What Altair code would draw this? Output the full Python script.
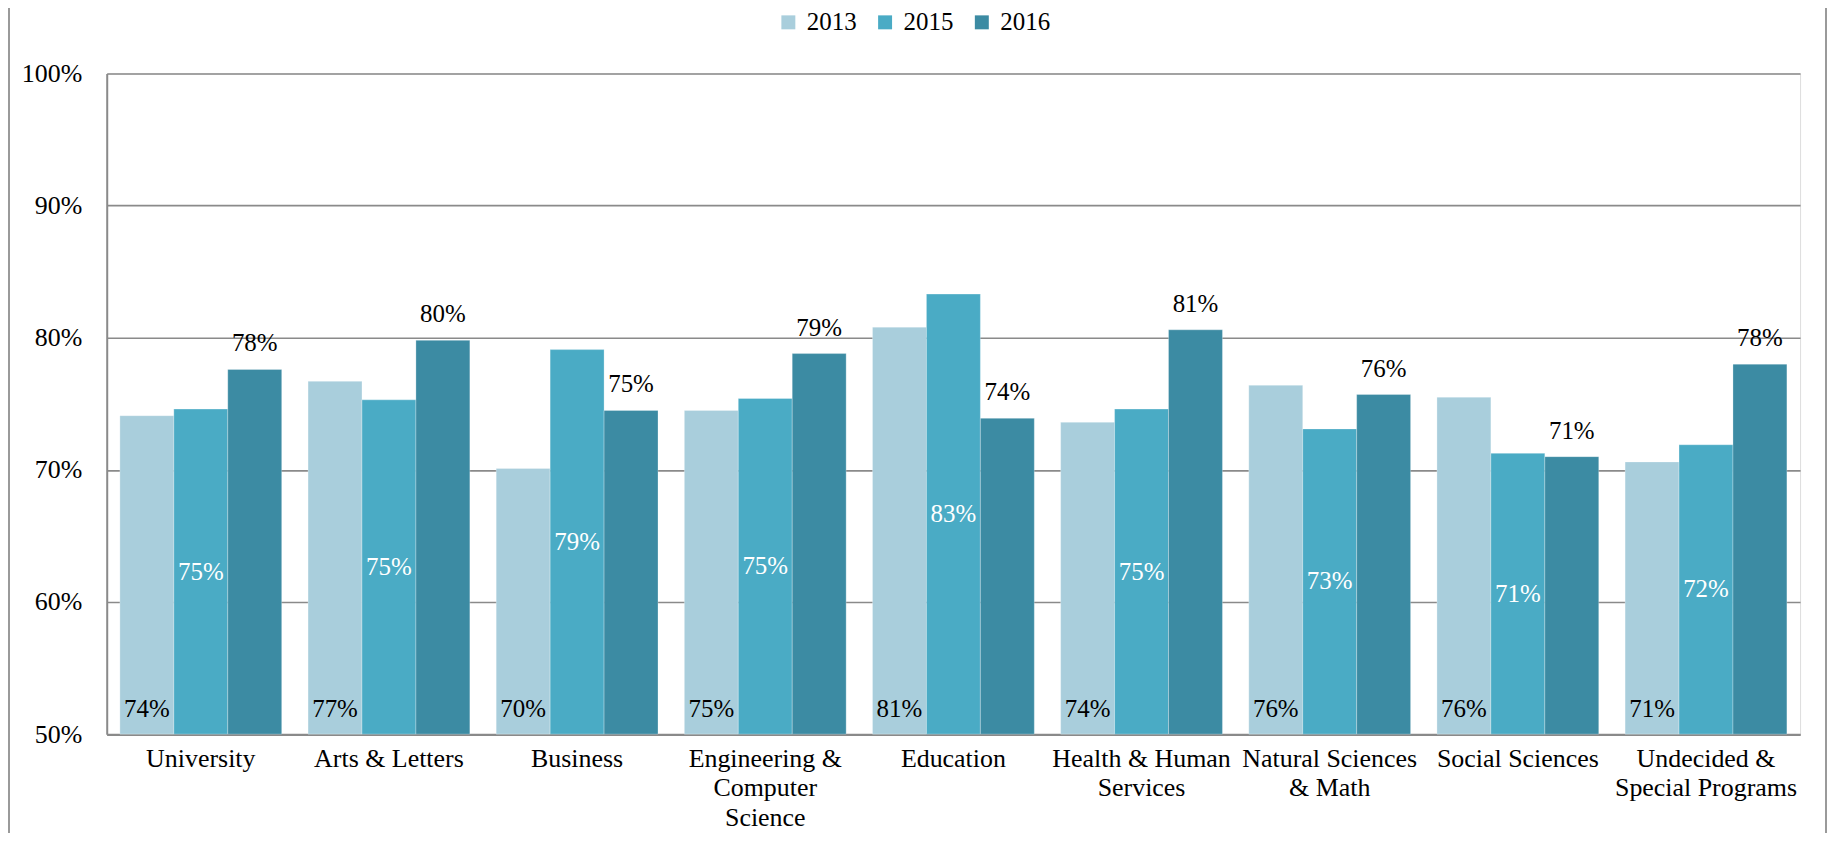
import altair as alt
import pandas as pd

categories = ["University", "Arts & Letters", "Business", "Engineering & Computer Science",
              "Education", "Health & Human Services", "Natural Sciences & Math",
              "Social Sciences", "Undecided & Special Programs"]
label_lines = [["University"], ["Arts & Letters"], ["Business"],
               ["Engineering &", "Computer", "Science"], ["Education"],
               ["Health & Human", "Services"], ["Natural Sciences", "& Math"],
               ["Social Sciences"], ["Undecided &", "Special Programs"]]
years = ["2013", "2015", "2016"]
v2013 = [74.1, 76.7, 70.1, 74.5, 80.8, 73.6, 76.4, 75.5, 70.6]
v2015 = [74.6, 75.3, 79.1, 75.4, 83.3, 74.6, 73.1, 71.25, 71.9]
v2016 = [77.6, 79.8, 74.5, 78.8, 73.9, 80.6, 75.7, 71.0, 78.0]
colors = ["#A9CEDC", "#4AABC5", "#3C8BA3"]
y_ticks = [50, 60, 70, 80, 90, 100]

rows = []
for yr, vals in zip(years, [v2013, v2015, v2016]):
    for c, v in zip(categories, vals):
        rows.append({"category": c, "year": yr, "value": v})
df = pd.DataFrame(rows)

FONT = "Liberation Serif"

# multi-line x labels
expr = "datum.label"
for c, lines in reversed(list(zip(categories, label_lines))):
    arr = "[" + ",".join("'" + l + "'" for l in lines) + "]"
    expr = f"datum.label == '{c}' ? {arr} : ({expr})"

x_enc = alt.X("category:N", sort=categories,
              scale=alt.Scale(paddingInner=0.14, paddingOuter=0.07),
              axis=alt.Axis(title=None, labelExpr=expr, labelAngle=0, ticks=False,
                            labelPadding=11, labelFontSize=26, labelLineHeight=30,
                            labelColor="black", labelFont=FONT, labelLimit=400,
                            labelOverlap=False, labelBound=False,
                            domainColor="#8a8a8a", domainWidth=2))
xo = alt.XOffset("year:N", sort=years, scale=alt.Scale(paddingInner=0, paddingOuter=0))
y_scale = alt.Scale(domain=[50, 100], zero=False, nice=False)

base = alt.Chart(df)

bars = base.mark_bar(stroke="#ffffff", strokeWidth=0.8, strokeOpacity=0.35).encode(
    x=x_enc,
    xOffset=xo,
    y=alt.Y("value:Q", scale=y_scale,
            axis=alt.Axis(title=None, values=y_ticks, labelExpr="datum.value + '%'",
                          ticks=False, labelPadding=25, labelFontSize=26,
                          labelColor="black", labelFont=FONT,
                          gridColor="#8a8a8a", gridWidth=1.6,
                          domainColor="#8a8a8a", domainWidth=2)),
    y2=alt.Y2("base:Q"),
    color=alt.Color("year:N", sort=years,
                    scale=alt.Scale(domain=years, range=colors),
                    legend=alt.Legend(title=None, orient="none", legendX=671, legendY=-64,
                                      direction="horizontal", symbolType="square",
                                      symbolSize=196, symbolStrokeWidth=0,
                                      labelFontSize=25, labelFont=FONT, labelColor="black",
                                      labelOffset=6, columnPadding=16, padding=0)),
).transform_calculate(base="50")

lab2013 = base.transform_filter("datum.year == '2013'").transform_calculate(
    base="50", txt="round(datum.value) + '%'"
).mark_text(baseline="alphabetic", dy=-17, fontSize=25, font=FONT, color="black").encode(
    x=alt.X("category:N", sort=categories), xOffset=xo,
    y=alt.Y("base:Q", scale=y_scale), text="txt:N")

lab2015 = base.transform_filter("datum.year == '2015'").transform_calculate(
    mid="(datum.value + 50) / 2", txt="round(datum.value) + '%'"
).mark_text(baseline="middle", fontSize=25, font=FONT, color="white").encode(
    x=alt.X("category:N", sort=categories), xOffset=xo,
    y=alt.Y("mid:Q", scale=y_scale), text="txt:N")

lab2016 = base.transform_filter("datum.year == '2016'").transform_calculate(
    txt="round(datum.value) + '%'"
).mark_text(baseline="alphabetic", dy=-18, fontSize=25, font=FONT, color="black").encode(
    x=alt.X("category:N", sort=categories), xOffset=xo,
    y=alt.Y("value:Q", scale=y_scale), text="txt:N")

one = pd.DataFrame({"k": [0]})
border_l = alt.Chart(one).mark_rule(color="#9a9a9a", strokeWidth=2).encode(
    x=alt.value(-98), y=alt.value(-100), y2=alt.value(800))
border_r = alt.Chart(one).mark_rule(color="#9a9a9a", strokeWidth=2).encode(
    x=alt.value(1724), y=alt.value(-100), y2=alt.value(800))

chart = alt.layer(bars, lab2013, lab2015, lab2016, border_l, border_r).properties(
    width=1698, height=662.5,
    autosize=alt.AutoSizeParams(type="none"),
    padding={"left": 99, "top": 64.5, "right": 27, "bottom": 98},
).configure_view(stroke=None).configure(font=FONT).configure_text(font=FONT)

chart.save("out.html", embed_options={"renderer": "svg", "actions": False})
